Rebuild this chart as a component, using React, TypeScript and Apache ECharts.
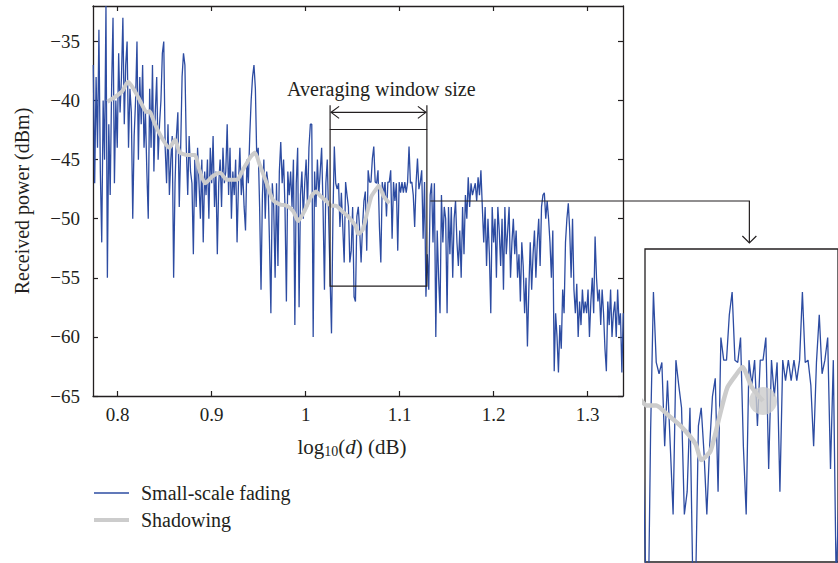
import React, { useEffect, useRef } from "react";
import * as echarts from "echarts";

// ---- data ----
const xTicks = [0.8, 0.9, 1.0, 1.1, 1.2, 1.3];
const yTicks = [-65, -60, -55, -50, -45, -40, -35];

// small-scale fading samples: first log10(d) and spacing between samples
const fadingStart = 0.774;
const fadingStep = 0.0015;
const fadingDbm = [
  -37, -47, -38, -44, -34, -46, -52, -40, -45, -32,
  -55, -42, -48, -39, -33, -47, -40, -44, -36, -41,
  -38, -33, -42, -37, -35, -44, -39, -41, -50, -43,
  -40, -35, -45, -38, -42, -37, -44, -41, -46, -50,
  -39, -44, -37, -46, -41, -38, -45, -42, -40, -36,
  -35, -44, -47, -42, -48, -45, -43, -55, -47, -43,
  -41, -49, -44, -38, -36, -37, -44, -48, -43, -46,
  -47, -53, -45, -49, -44, -47, -50, -45, -52, -46,
  -48, -45, -50, -44, -47, -43, -49, -46, -53, -47,
  -45, -49, -44, -47, -46, -42, -48, -44, -50, -46,
  -48, -45, -52, -47, -44, -48, -46, -49, -51, -45,
  -47, -43, -40, -38, -37, -39, -45, -44, -49, -56,
  -48, -45, -50, -46, -47, -52, -58, -47, -49, -55,
  -47, -54, -46, -43.5, -47, -45, -49, -57, -46, -48,
  -46, -49, -45, -59, -47, -44, -57.5, -48, -46, -50,
  -47, -45, -49, -44, -42, -42, -60, -46, -49, -45,
  -48, -46, -44, -49, -56, -47, -45, -50, -55, -59.7,
  -50, -43.9, -47, -47.5, -47, -50.7, -47.8, -50.7, -53.7, -46.9,
  -48, -49, -53.7, -52.7, -49, -56.6, -57, -49.8, -49, -51,
  -53.7, -50.7, -48.5, -47.7, -52.7, -45.9, -46.9, -46.9, -44.9, -43.9,
  -46.9, -47, -45.9, -50.7, -53.7, -46.9, -48, -46.9, -49.8, -46.9,
  -46.9, -45.9, -51.7, -46.9, -48.5, -47, -52.7, -46.9, -47.8, -46.9,
  -47.8, -46.9, -47.8, -46.9, -43.9, -47, -46.9, -48, -50.7, -47,
  -44.9, -47.5, -46.9, -45.9, -51.7, -46.9, -56.6, -53, -56, -48,
  -47, -52, -47, -60, -51, -55, -58, -48, -52, -49,
  -50, -58, -49, -53, -49, -55, -50, -48.5, -52, -54,
  -51, -55, -49, -53, -48, -50, -46.5, -49, -47, -48,
  -47.5, -47, -48.5, -46.5, -48, -45.9, -49, -52, -49, -54,
  -50, -53, -58, -49, -52, -50, -55, -49, -51, -54,
  -50, -56, -49, -53, -51, -49, -55, -52, -50, -53,
  -51, -55, -53, -57, -52, -54, -58, -55, -60.8, -56,
  -52, -56, -53, -51, -55, -52, -50, -54, -49, -48,
  -47.8, -50, -48.5, -50, -52, -55, -51, -62.9, -58, -60,
  -63, -59, -61, -56, -58, -52, -50, -48.7, -51, -55,
  -50, -56, -58, -55.5, -60, -57, -59, -56, -58, -57,
  -58, -56, -60, -57, -55, -58, -51.5, -55, -57, -56,
  -59, -56, -58, -61, -62.9, -57, -59, -56, -60, -58,
  -57, -60, -56, -59, -58, -63, -58,
];

// shadowing (moving average)
const shadowX = [
  0.789, 0.797, 0.805, 0.811, 0.816, 0.823, 0.831, 0.834, 0.839, 0.848,
  0.855, 0.861, 0.866, 0.874, 0.882, 0.887, 0.893, 0.901, 0.909, 0.916,
  0.927, 0.933, 0.941, 0.946, 0.951, 0.959, 0.965, 0.973, 0.98, 0.987,
  0.992, 0.999, 1.006, 1.011, 1.016, 1.022, 1.027, 1.032, 1.038, 1.045,
  1.053, 1.056, 1.061, 1.066, 1.07, 1.075, 1.078, 1.083, 1.089,
];
const shadowDbm = [
  -40.1, -39.7, -39.2, -38.4, -38.9, -39.9, -41.0, -40.9, -41.9, -43.3,
  -44.0, -43.3, -44.4, -44.6, -44.6, -45.9, -47.0, -46.4, -46.1, -46.7,
  -46.7, -45.9, -44.8, -44.4, -45.4, -47.1, -48.4, -48.8, -48.9, -49.4,
  -50.2, -49.3, -48.1, -47.7, -48.1, -48.5, -48.9, -48.9, -49.3, -49.8,
  -50.6, -51.3, -50.9, -49.3, -48.1, -47.5, -47.2, -48.1, -48.7,
];

// averaging window (log10 d) and its power span
const windowX = [1.026, 1.129];
const windowDbm = [-55.7, -42.45];
const insetY = [-55.8, -42.0];

const legendNames = ["Small-scale fading", "Shadowing"];

const BLUE = "#2D4CA2";
const GREY = "#CCCCCC";
const INK = "#231F20";
const FONT = "'Liberation Serif', 'Times New Roman', serif";

export default function App() {
  const ref = useRef<HTMLDivElement>(null);

  useEffect(() => {
    document.body.style.margin = "0";
    const chart = echarts.init(ref.current!, undefined, { renderer: "svg" });
    const fading = fadingDbm.map((v, i) => [+(fadingStart + i * fadingStep).toFixed(4), v]);
    const shadow = shadowX.map((x, i) => [x, shadowDbm[i]]);
    const last = shadow[shadow.length - 1];

    const xFmt = (v: number) => String(Math.round(v * 10) / 10);
    const yFmt = (v: number) => (v < 0 ? "\u2212" + Math.abs(v) : String(v));
    const axisLine = { show: true, onZero: false, lineStyle: { color: INK, width: 1.3 } };
    const tick = (vals: number[]) => ({
      show: true,
      inside: true,
      length: 5,
      customValues: vals,
      lineStyle: { color: INK, width: 1.2 },
    });

    chart.setOption({
      animation: false,
      textStyle: { fontFamily: FONT, color: INK },
      grid: [
        { left: 93, top: 6, width: 530, height: 390, show: false },
        {
          left: 645,
          top: 249,
          width: 200,
          height: 313,
          show: true,
          borderColor: INK,
          borderWidth: 1.3,
          backgroundColor: "#ffffff",
        },
      ],
      xAxis: [
        {
          gridIndex: 0,
          type: "value",
          position: "bottom",
          min: 0.7737,
          max: 1.3377,
          axisLine,
          axisTick: tick(xTicks),
          axisLabel: {
            customValues: xTicks,
            formatter: xFmt,
            fontSize: 19,
            color: INK,
            fontFamily: FONT,
            margin: 9,
          },
          splitLine: { show: false },
          name: "{n|log}{s|10}{n|(}{i|d}{n|) (dB)}",
          nameLocation: "middle",
          nameGap: 40,
          nameTextStyle: {
            padding: [0, 12, 0, 0],
            rich: {
              n: { fontSize: 21, fontFamily: FONT, color: INK },
              s: { fontSize: 14, fontFamily: FONT, color: INK, verticalAlign: "bottom", padding: [8, 0, 0, 0] },
              i: { fontSize: 21, fontFamily: FONT, fontStyle: "italic", color: INK },
            },
          },
        },
        {
          gridIndex: 0,
          type: "value",
          position: "top",
          min: 0.7737,
          max: 1.3377,
          axisLine,
          axisTick: tick(xTicks),
          axisLabel: { show: false },
          splitLine: { show: false },
        },
        {
          gridIndex: 1,
          type: "value",
          min: windowX[0],
          max: windowX[1],
          show: false,
          splitLine: { show: false },
        },
      ],
      yAxis: [
        {
          gridIndex: 0,
          type: "value",
          position: "left",
          min: -65,
          max: -32,
          interval: 5,
          axisLine,
          axisTick: tick(yTicks),
          axisLabel: {
            customValues: yTicks,
            formatter: yFmt,
            fontSize: 19,
            color: INK,
            fontFamily: FONT,
            margin: 13,
          },
          splitLine: { show: false },
          name: "Received power (dBm)",
          nameLocation: "middle",
          nameGap: 61,
          nameTextStyle: { fontSize: 20, fontFamily: FONT, color: INK },
        },
        {
          gridIndex: 0,
          type: "value",
          position: "right",
          min: -65,
          max: -32,
          interval: 5,
          axisLine,
          axisTick: tick(yTicks),
          axisLabel: { show: false },
          splitLine: { show: false },
        },
        {
          gridIndex: 1,
          type: "value",
          min: insetY[0],
          max: insetY[1],
          show: false,
          splitLine: { show: false },
        },
      ],
      legend: {
        data: legendNames,
        orient: "vertical",
        left: 92,
        top: 482,
        padding: 0,
        itemWidth: 35,
        itemHeight: 14,
        itemGap: 5,
        selectedMode: false,
        itemStyle: { opacity: 0 },
        lineStyle: { width: "inherit" },
        textStyle: { fontSize: 20, fontFamily: FONT, color: INK, lineHeight: 22, padding: [0, 0, 0, 7] },
      },
      series: [
        {
          name: legendNames[0],
          type: "line",
          xAxisIndex: 0,
          yAxisIndex: 0,
          data: fading,
          symbol: "none",
          lineStyle: { color: BLUE, width: 1.3 },
          itemStyle: { color: BLUE },
          z: 2,
        },
        {
          name: legendNames[1],
          type: "line",
          xAxisIndex: 0,
          yAxisIndex: 0,
          data: shadow,
          symbol: "none",
          smooth: 0.2,
          lineStyle: { color: GREY, width: 4 },
          itemStyle: { color: GREY },
          z: 3,
        },
        {
          name: "fading-detail",
          type: "line",
          xAxisIndex: 2,
          yAxisIndex: 2,
          data: fading,
          symbol: "none",
          clip: true,
          lineStyle: { color: BLUE, width: 1.3 },
          z: 2,
        },
        {
          name: "shadow-detail",
          type: "line",
          xAxisIndex: 2,
          yAxisIndex: 2,
          data: shadow,
          symbol: "none",
          smooth: 0.2,
          clip: true,
          lineStyle: { color: GREY, width: 4.5 },
          z: 3,
        },
        {
          name: "shadow-end",
          type: "scatter",
          xAxisIndex: 2,
          yAxisIndex: 2,
          data: [last],
          symbolSize: 28,
          itemStyle: { color: GREY },
          z: 4,
        },
      ],
    });

    const P = (si: number, x: number, y: number) =>
      chart.convertToPixel({ seriesIndex: si }, [x, y]) as number[];
    const tl = P(0, windowX[0], windowDbm[1]);
    const br = P(0, windowX[1], windowDbm[0]);
    const tickTop = P(0, windowX[0], -40.4)[1];
    const arrowY = P(0, windowX[0], -41.0)[1];
    const textPos = P(0, 1.0805, -39.0);
    const connStart = P(0, 1.1326, -48.5);
    const insetTop = P(2, 1.0817, insetY[1]);
    const stroke = { stroke: INK, lineWidth: 1.2, fill: "none" };

    chart.setOption({
      graphic: [
        {
          type: "rect",
          shape: { x: tl[0], y: tl[1], width: br[0] - tl[0], height: br[1] - tl[1] },
          style: stroke,
          z: 10,
        },
        { type: "line", shape: { x1: tl[0], y1: tickTop, x2: tl[0], y2: tl[1] }, style: stroke, z: 10 },
        { type: "line", shape: { x1: br[0], y1: tickTop, x2: br[0], y2: tl[1] }, style: stroke, z: 10 },
        { type: "line", shape: { x1: tl[0] + 1, y1: arrowY, x2: br[0] - 1, y2: arrowY }, style: stroke, z: 10 },
        {
          type: "polyline",
          shape: { points: [[tl[0] + 9, arrowY - 6], [tl[0] + 1, arrowY], [tl[0] + 9, arrowY + 6]] },
          style: stroke,
          z: 10,
        },
        {
          type: "polyline",
          shape: { points: [[br[0] - 9, arrowY - 6], [br[0] - 1, arrowY], [br[0] - 9, arrowY + 6]] },
          style: stroke,
          z: 10,
        },
        {
          type: "text",
          x: textPos[0],
          y: textPos[1],
          style: {
            text: "Averaging window size",
            fontSize: 20,
            fontFamily: FONT,
            fill: INK,
            align: "center",
            verticalAlign: "middle",
          },
          z: 10,
        },
        {
          type: "polyline",
          shape: {
            points: [
              [connStart[0], connStart[1]],
              [insetTop[0], connStart[1]],
              [insetTop[0], insetTop[1] - 6],
            ],
          },
          style: stroke,
          z: 10,
        },
        {
          type: "polyline",
          shape: {
            points: [
              [insetTop[0] - 7, insetTop[1] - 13],
              [insetTop[0], insetTop[1] - 6],
              [insetTop[0] + 7, insetTop[1] - 13],
            ],
          },
          style: stroke,
          z: 10,
        },
      ],
    });

    return () => chart.dispose();
  }, []);

  return (
    <div
      ref={ref}
      style={{ position: "fixed", left: 0, top: 0, width: 838, height: 563, background: "#ffffff" }}
    />
  );
}
